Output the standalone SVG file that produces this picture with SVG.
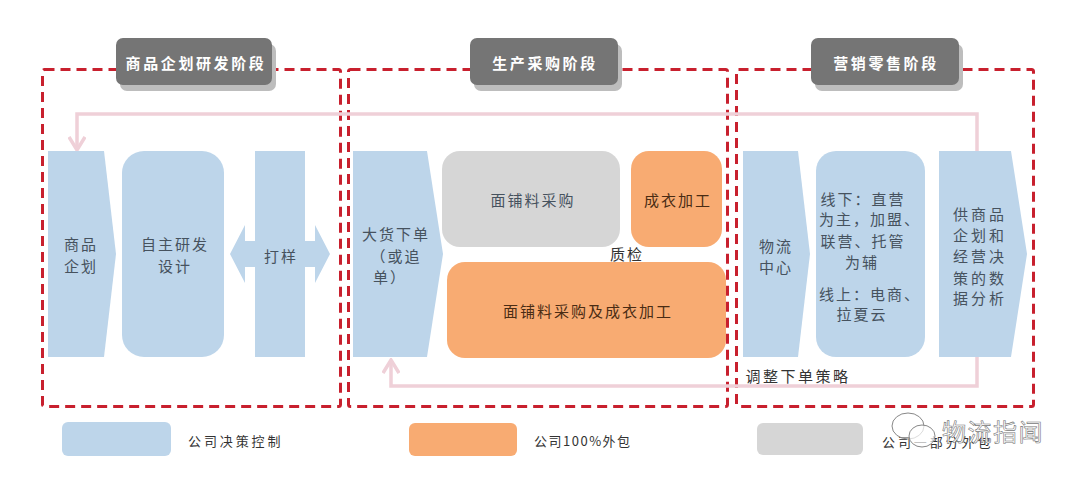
<svg xmlns="http://www.w3.org/2000/svg" width="1080" height="477" viewBox="0 0 1080 477">
<defs>
<style>
text{font-family:"Noto Sans CJK SC","Noto Sans",sans-serif;font-size:15px;letter-spacing:2px;text-anchor:middle;dominant-baseline:central;fill:#46525e}
.blue{fill:#bdd5ea}.orange{fill:#f8ab72}.gray{fill:#d6d6d6}
.zone{fill:none;stroke:#c8202e;stroke-width:3;stroke-dasharray:10 6}
.pink{fill:none;stroke:#efd0d8;stroke-width:3.5}
.tab{fill:#757575}.shadow{fill:#bdbdbd}
text.tabt{fill:#fff;font-weight:700;font-size:15px;letter-spacing:2.600px}
text.dark{fill:#4a2c14}
text.blk{fill:#333}
text.wide{letter-spacing:3px}
text.leg{font-size:13px;letter-spacing:2.900px;text-anchor:start;fill:#333}
text.leg2{letter-spacing:1.500px}
text.wm{font-size:24px;letter-spacing:1.500px;fill:#fff;stroke:#777;stroke-width:.6;text-anchor:start}
</style>
<marker id="ah" viewBox="0 0 16 18" refX="14" refY="9" markerWidth="16" markerHeight="18" markerUnits="userSpaceOnUse" orient="auto"><path d="M1 1L14 9L1 17" fill="none" stroke="#efd0d8" stroke-width="3.5"/></marker>
</defs>
<rect width="1080" height="477" fill="#fff"/>
<g id="zones">
<rect class="zone" x="42.500" y="69.500" width="298" height="337" rx="2"/>
<rect class="zone" x="348.500" y="69.500" width="379" height="337" rx="2"/>
<rect class="zone" x="736.500" y="69.500" width="297" height="337" rx="2"/>
</g>
<g id="connectors">
<path class="pink" d="M977 151V114H77V150" marker-end="url(#ah)"/>
<path class="pink" d="M977 357V386H391V360" marker-end="url(#ah)"/>
</g>
<g id="tab1"><rect class="shadow" x="120" y="44" width="156" height="47" rx="7"/><rect class="tab" x="116" y="38" width="156" height="47" rx="7"/><text class="tabt" x="196" y="62">商品企划研发阶段</text></g>
<g id="tab2"><rect class="shadow" x="474" y="44" width="148" height="47" rx="7"/><rect class="tab" x="470" y="38" width="148" height="47" rx="7"/><text class="tabt" x="545" y="62">生产采购阶段</text></g>
<g id="tab3"><rect class="shadow" x="815" y="44" width="148" height="47" rx="7"/><rect class="tab" x="811" y="38" width="148" height="47" rx="7"/><text class="tabt" x="886" y="62">营销零售阶段</text></g>
<g id="n-plan"><path class="blue" d="M48 151H104L116 254L104 357H48Z"/><text x="81" y="243">商品</text><text x="81" y="265">企划</text></g>
<g id="n-design"><rect class="blue" x="122" y="151" width="102" height="206" rx="22"/><text x="175" y="243">自主研发</text><text x="175" y="265">设计</text></g>
<g id="n-sample"><path class="blue" d="M255 151H305V241H315V225L330 254L315 283V267H305V357H255V267H245V283L230 254L245 225V241H255Z"/><text x="281" y="255">打样</text></g>
<g id="n-order"><path class="blue" d="M353 151H427L443 254L427 357H353Z"/><text x="396" y="233">大货下单</text><text x="396" y="255">（或追</text><text x="390" y="276">单）</text></g>
<g id="n-fabric"><rect class="gray" x="442" y="151" width="178" height="96" rx="18"/><text x="533" y="199">面铺料采购</text></g>
<g id="n-garment"><rect class="orange" x="631" y="151" width="91" height="96" rx="18"/><text class="dark" x="678" y="199">成衣加工</text></g>
<g id="n-qc"><text class="blk" x="627" y="253">质检</text></g>
<g id="n-both"><rect class="orange" x="447" y="262" width="279" height="96" rx="18"/><text class="dark" x="588" y="310">面铺料采购及成衣加工</text></g>
<g id="n-logistics"><path class="blue" d="M743 151H798L810 254L798 357H743Z"/><text x="776" y="245">物流</text><text x="776" y="266">中心</text></g>
<g id="n-retail"><rect class="blue" x="816" y="151" width="109" height="206" rx="20"/>
<text x="863" y="198">线下：直营</text><text x="870" y="218">为主，加盟、</text><text x="863" y="240">联营、托管</text><text x="862" y="261">为辅</text><text x="870" y="293">线上：电商、</text><text x="862" y="313">拉夏云</text></g>
<g id="n-data"><path class="blue" d="M939 151H1011L1027 254L1011 357H939Z"/>
<text class="wide" x="980" y="213">供商品</text><text class="wide" x="980" y="234">企划和</text><text class="wide" x="980" y="255">经营决</text><text class="wide" x="980" y="277">策的数</text><text class="wide" x="980" y="297">据分析</text></g>
<g id="n-adjust"><text class="blk wide" x="798" y="375" style="letter-spacing:2.500px">调整下单策略</text></g>
<g id="legend">
<rect class="blue" x="62" y="422" width="109" height="34" rx="6"/><text class="leg" x="188" y="440">公司决策控制</text>
<rect class="orange" x="409" y="423" width="108" height="33" rx="6"/><text class="leg leg2" x="534" y="440">公司100%外包</text>
<rect class="gray" x="757" y="423" width="106" height="32" rx="6"/><text class="leg" x="882" y="441">公司一部分外包</text>
</g>
<g id="watermark">
<ellipse cx="908" cy="426" rx="16" ry="13" fill="#fff" fill-opacity=".5" stroke="#888" stroke-width="1"/>
<ellipse cx="922" cy="436" rx="13" ry="11" fill="#fff" fill-opacity=".7" stroke="#888" stroke-width="1"/>
<text class="wm" x="942" y="430">物流指闻</text>
</g>
</svg>
